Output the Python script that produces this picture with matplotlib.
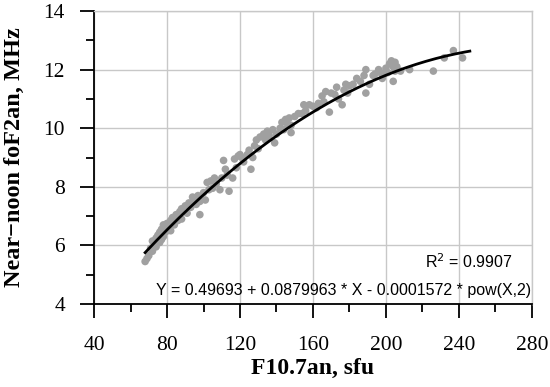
import numpy as np
import matplotlib
matplotlib.use('Agg')
import matplotlib.pyplot as plt
from matplotlib.ticker import MultipleLocator

###--- Data ---###
f107 = [68, 69, 70, 71, 72, 72, 73, 74, 74, 75, 76, 76, 77, 77, 78, 78, 79, 80, 80, 81,
        82, 82, 83, 84, 85, 86, 87, 88, 88, 90, 91, 92, 93, 94, 95, 96, 97, 98, 98, 100,
        101, 102, 103, 104, 105, 106, 107, 109, 110, 111, 112, 113, 114, 116, 117, 118, 119, 120, 121, 122,
        124, 125, 126, 127, 128, 129, 130, 131, 133, 134, 135, 136, 138, 139, 140, 142, 143, 144, 145, 146,
        147, 148, 148, 150, 152, 154, 155, 156, 158, 160, 162, 163, 165, 166, 167, 169, 170, 172, 173, 174,
        176, 177, 178, 179, 180, 182, 184, 186, 188, 189, 189, 191, 193, 194, 196, 197, 198, 199, 200, 201,
        202, 203, 204, 204, 205, 205, 206, 208, 213, 226, 232, 237, 242]
fof2 = [5.45, 5.55, 5.65, 5.9, 5.8, 6.15, 6.0, 6.25, 5.95, 6.35, 6.1, 6.45, 6.2, 6.55, 6.3, 6.7, 6.45, 6.5, 6.75, 6.6,
        6.85, 6.5, 6.95, 6.7, 7.05, 6.85, 7.15, 7.25, 6.9, 7.35, 7.1, 7.45, 7.3, 7.65, 7.55, 7.4, 7.7, 7.5, 7.05, 7.8,
        7.55, 8.15, 7.9, 8.2, 7.95, 8.3, 8.1, 7.9, 8.3, 8.9, 8.6, 8.4, 7.85, 8.3, 8.95, 8.65, 9.05, 9.1, 9.0, 8.85,
        9.1, 9.25, 8.6, 9.0, 9.4, 9.6, 9.3, 9.7, 9.8, 9.6, 9.9, 9.75, 9.95, 9.5, 9.8, 10.0, 10.2, 9.95, 10.3, 10.15,
        10.35, 10.1, 9.85, 10.4, 10.5, 10.5, 10.8, 10.6, 10.8, 10.75, 10.7, 10.85, 11.1, 10.9, 11.25, 10.55, 11.2, 11.15, 11.4, 11.0,
        10.8, 11.3, 11.5, 11.2, 11.45, 11.5, 11.7, 11.6, 11.8, 11.2, 12.0, 11.5, 11.8, 11.85, 12.0, 11.9, 11.7, 11.85, 12.05, 11.9,
        12.2, 12.3, 11.6, 12.1, 11.95, 12.25, 12.1, 11.95, 12.0, 11.95, 12.4, 12.65, 12.4]

a0, a1, a2 = 0.49693, 0.0879963, -0.0001572
xfit_min, xfit_max = 68, 246
r2 = 0.9907

xfit = np.linspace(xfit_min, xfit_max, 200)
yfit = a0 + a1*xfit + a2*xfit**2

###--- Plotting ---###
fig = plt.figure(figsize=(5.5, 3.87), dpi=100)
ax = fig.add_axes([0.171, 0.2145, 0.796, 0.757])

ax.scatter(f107, fof2, s=30, color='#a0a0a0', edgecolors='none', zorder=3)
ax.plot(xfit, yfit, color='k', lw=2.0, zorder=4)

ax.set_xlim(40, 280)
ax.set_ylim(4, 14)
ax.xaxis.set_major_locator(MultipleLocator(40))
ax.xaxis.set_minor_locator(MultipleLocator(20))
ax.yaxis.set_major_locator(MultipleLocator(2))
ax.yaxis.set_minor_locator(MultipleLocator(1))

ax.grid(True, which='major', color='#c8c8c8', lw=1.0, zorder=0)
ax.set_axisbelow(True)

for s in ['top', 'right']:
    ax.spines[s].set_color('#c8c8c8')
    ax.spines[s].set_linewidth(1.0)
for s in ['left', 'bottom']:
    ax.spines[s].set_color('k')
    ax.spines[s].set_linewidth(1.3)

ax.tick_params(axis='both', which='major', direction='out', length=10, width=1.3,
               labelsize=15.5, colors='k')
ax.tick_params(axis='both', which='minor', direction='out', length=5.5, width=1.3)
ax.tick_params(axis='x', which='major', pad=13)
ax.tick_params(axis='y', which='major', pad=11)
for lab in ax.get_xticklabels() + ax.get_yticklabels():
    lab.set_family('Liberation Serif')

ax.set_xlabel('F10.7an, sfu', fontsize=17, fontweight='bold', family='Liberation Serif', labelpad=2)
ax.set_ylabel('Near\u2212noon foF2an, MHz', fontsize=17.5, fontweight='bold', family='Liberation Serif',
              labelpad=13)

ax.text(0.957, 0.145, 'R$^2$ = {:.4f}'.format(r2), transform=ax.transAxes, ha='right', va='center',
        fontsize=11.5, family='Liberation Sans')
ax.text(0.998, 0.045, 'Y = 0.49693 + 0.0879963 * X - 0.0001572 * pow(X,2)', transform=ax.transAxes,
        ha='right', va='center', fontsize=11.5, family='Liberation Sans')

fig.savefig('out.png', dpi=100)
